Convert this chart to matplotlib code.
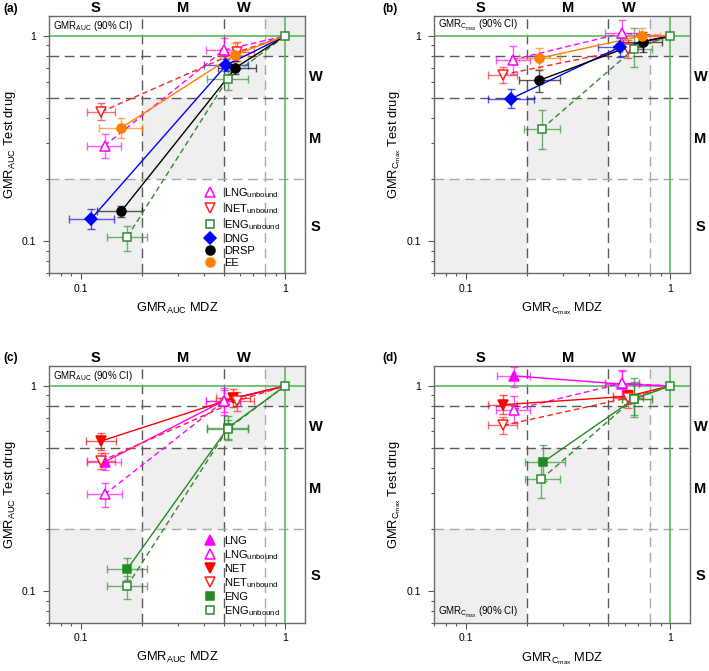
import matplotlib
matplotlib.use("Agg")
import matplotlib.pyplot as plt
from matplotlib.ticker import FixedLocator, NullFormatter, LogLocator

plt.rcParams['font.family'] = ['Liberation Sans', 'DejaVu Sans']
plt.rcParams['mathtext.fontset'] = 'custom'
plt.rcParams['mathtext.rm'] = 'Liberation Sans'
plt.rcParams['mathtext.it'] = 'Liberation Sans:italic'
plt.rcParams['mathtext.bf'] = 'Liberation Sans:bold'
plt.rcParams['mathtext.default'] = 'regular'

# cada ponto: (x, x_lo, x_hi, y, y_lo, y_hi)  -- GMR com IC 90%
# painel (a): AUC
a_lng_unb = [(0.131, 0.108, 0.157, 0.292, 0.255, 0.333), (0.50, 0.412, 0.603, 0.853, 0.725, 0.98)]
a_net_unb = [(0.126, 0.108, 0.148, 0.427, 0.39, 0.47), (0.58, 0.479, 0.701, 0.833, 0.755, 0.935)]
a_eng_unb = [(0.169, 0.134, 0.212, 0.105, 0.090, 0.119), (0.525, 0.415, 0.659, 0.62, 0.543, 0.686)]
a_dng = [(0.113, 0.088, 0.145, 0.129, 0.115, 0.143), (0.515, 0.40, 0.66, 0.72, 0.675, 0.775)]
a_drsp = [(0.158, 0.12, 0.20, 0.14, 0.131, 0.149), (0.572, 0.47, 0.725, 0.70, 0.65, 0.755)]
a_ee = [(0.158, 0.123, 0.20, 0.357, 0.318, 0.398), (0.567, 0.479, 0.658, 0.81, 0.727, 0.928)]

# painel (b): Cmax
b_lng_unb = [(0.170, 0.141, 0.207, 0.766, 0.655, 0.89), (0.58, 0.48, 0.708, 1.03, 0.88, 1.2)]
b_net_unb = [(0.152, 0.129, 0.178, 0.648, 0.59, 0.71), (0.621, 0.529, 0.741, 0.86, 0.781, 0.952)]
b_eng_unb = [(0.236, 0.194, 0.288, 0.353, 0.282, 0.438), (0.667, 0.58, 0.82, 0.867, 0.706, 1.09)]
b_dng = [(0.167, 0.128, 0.217, 0.495, 0.445, 0.55), (0.57, 0.442, 0.741, 0.884, 0.79, 0.978)]
b_drsp = [(0.229, 0.183, 0.288, 0.608, 0.533, 0.685), (0.735, 0.592, 0.91, 0.94, 0.836, 1.046)]
b_ee = [(0.229, 0.183, 0.288, 0.78, 0.693, 0.874), (0.727, 0.592, 0.894, 1.0, 0.917, 1.09)]

# painel (c): AUC, total vs unbound
c_lng = [(0.131, 0.108, 0.157, 0.426, 0.39, 0.47), (0.50, 0.412, 0.603, 0.845, 0.75, 0.95)]
c_lng_unb = [(0.131, 0.108, 0.160, 0.296, 0.257, 0.335), (0.50, 0.412, 0.603, 0.84, 0.725, 0.98)]
c_net = [(0.126, 0.106, 0.149, 0.539, 0.487, 0.592), (0.556, 0.461, 0.676, 0.87, 0.793, 0.963)]
c_net_unb = [(0.126, 0.108, 0.148, 0.43, 0.395, 0.47), (0.58, 0.479, 0.701, 0.845, 0.755, 0.935)]
c_eng = [(0.169, 0.134, 0.212, 0.128, 0.114, 0.145), (0.526, 0.415, 0.659, 0.626, 0.55, 0.714)]
c_eng_unb = [(0.169, 0.134, 0.212, 0.106, 0.092, 0.119), (0.526, 0.415, 0.659, 0.62, 0.543, 0.686)]

# painel (d): Cmax, total vs unbound
d_lng = [(0.172, 0.142, 0.207, 1.12, 0.99, 1.24), (0.58, 0.48, 0.708, 1.02, 0.88, 1.18)]
d_lng_unb = [(0.172, 0.141, 0.207, 0.766, 0.66, 0.89), (0.58, 0.48, 0.708, 1.03, 0.88, 1.2)]
d_net = [(0.153, 0.129, 0.178, 0.81, 0.73, 0.907), (0.621, 0.529, 0.741, 0.89, 0.82, 0.952)]
d_net_unb = [(0.153, 0.129, 0.178, 0.642, 0.585, 0.705), (0.621, 0.529, 0.741, 0.874, 0.78, 0.95)]
d_eng = [(0.239, 0.195, 0.305, 0.425, 0.345, 0.513), (0.67, 0.58, 0.82, 0.867, 0.72, 1.04)]
d_eng_unb = [(0.235, 0.195, 0.29, 0.352, 0.283, 0.435), (0.667, 0.58, 0.82, 0.867, 0.706, 1.09)]

# limites das categorias de interação (S, M, W)
limites = [0.2, 0.5, 0.8]
rotulos_cat = ['S', 'M', 'W']
pos_cat = [0.118, 0.316, 0.632]

# estilos: (cor, marcador, preenchido, tracejado)
estilos = {
    'LNG': ('#ff00ff', '^', True, False),
    'LNGu': ('#ff00ff', '^', False, True),
    'NET': ('#ff0000', 'v', True, False),
    'NETu': ('#ff2020', 'v', False, True),
    'ENG': ('#228b22', 's', True, False),
    'ENGu': ('#2e8b2e', 's', False, True),
    'DNG': ('#0000ff', 'D', True, False),
    'DRSP': ('#000000', 'o', True, False),
    'EE': ('#ff7f00', 'o', True, False),
}
tamanhos = {'^': 7, 'v': 7, 's': 5.5, 'D': 6, 'o': 6.5}
nomes = {
    'LNG': 'LNG', 'LNGu': 'LNG$_{unbound}$', 'NET': 'NET', 'NETu': 'NET$_{unbound}$',
    'ENG': 'ENG', 'ENGu': 'ENG$_{unbound}$', 'DNG': 'DNG', 'DRSP': 'DRSP', 'EE': 'EE',
}

VERDE = '#5cb85c'
CINZA_ESC = '#5a5a5a'
CINZA_CLA = '#a8a8a8'
FUNDO = '#efefef'
LIM = (0.07, 1.25)
W_PX, H_PX = 709, 671


def desenhar_painel(ax, series, letra, pos_letra, metrica, legenda=True, nota_embaixo=False):
    ax.set_xscale('log')
    ax.set_yscale('log')
    ax.set_xlim(*LIM)
    ax.set_ylim(*LIM)

    # blocos cinza na diagonal
    cantos = [LIM[0]] + limites + [LIM[1]]
    for i in range(len(cantos) - 1):
        ax.fill_between([cantos[i], cantos[i + 1]], cantos[i], cantos[i + 1],
                        color=FUNDO, lw=0, zorder=0)

    # linhas tracejadas das categorias
    for v, cor in zip(limites, [CINZA_ESC, CINZA_ESC, CINZA_CLA]):
        ax.axvline(v, color=cor, lw=1.0, dashes=(7, 4), zorder=1)
    for v, cor in zip(limites, [CINZA_CLA, CINZA_ESC, CINZA_ESC]):
        ax.axhline(v, color=cor, lw=1.0, dashes=(7, 4), zorder=1)
    ax.axvline(1, color=VERDE, lw=1.2, zorder=1)
    ax.axhline(1, color=VERDE, lw=1.2, zorder=1)

    handles = []
    for chave, pontos in series:
        cor, mk, cheio, tracejado = estilos[chave]
        xs = [p[0] for p in pontos] + [1.0]
        ys = [p[3] for p in pontos] + [1.0]
        xerr = [[p[0] - p[1] for p in pontos], [p[2] - p[0] for p in pontos]]
        yerr = [[p[3] - p[4] for p in pontos], [p[5] - p[3] for p in pontos]]
        ax.errorbar(xs[:-1], ys[:-1], xerr=xerr, yerr=yerr, fmt='none',
                    ecolor=cor, elinewidth=1.0, capsize=3, capthick=1.0,
                    alpha=0.65, zorder=2)
        kw = dict(dashes=(4, 2.5)) if tracejado else dict(ls='-')
        ax.plot(xs, ys, color=cor, lw=1.0, zorder=3, **kw)
        h, = ax.plot(xs[:-1], ys[:-1], ls='none', marker=mk, ms=tamanhos[mk],
                     mfc=cor if cheio else 'white', mec=cor, mew=1.1, zorder=4)
        handles.append((h, nomes[chave]))

    # ponto de referência (1, 1)
    ax.plot([1], [1], ls='none', marker='s', ms=5.5, mfc='white',
            mec='#2e8b2e', mew=1.1, zorder=5)

    # eixos
    ax.xaxis.set_major_locator(FixedLocator([0.1, 1]))
    ax.yaxis.set_major_locator(FixedLocator([0.1, 1]))
    ax.set_xticklabels(['0.1', '1'])
    ax.set_yticklabels(['0.1', '1'])
    for eixo in (ax.xaxis, ax.yaxis):
        eixo.set_minor_locator(LogLocator(base=10, subs=range(2, 10)))
        eixo.set_minor_formatter(NullFormatter())
    ax.tick_params(which='major', length=4, width=0.8, color='#555555',
                   labelsize=7.5)
    ax.tick_params(axis='x', which='major', pad=3.5)
    ax.tick_params(axis='y', which='major', pad=5)
    ax.tick_params(which='minor', length=2.5, width=0.8, color='#555555')
    for sp in ax.spines.values():
        sp.set_color('#6a6a6a')
        sp.set_linewidth(1.0)

    sub = '_{AUC}' if metrica == 'AUC' else '_{C_{max}}'
    ax.set_xlabel('GMR$' + sub + '$ MDZ', fontsize=9.3, labelpad=5)
    ax.set_ylabel('GMR$' + sub + '$ Test drug', fontsize=9.3, labelpad=3)

    # rótulos de categoria
    tx = ax.get_xaxis_transform()
    ty = ax.get_yaxis_transform()
    for r, p in zip(rotulos_cat, pos_cat):
        ax.text(p, 1.016, r, transform=tx, ha='center', va='baseline',
                fontsize=10.5, fontweight='bold')
        ax.text(1.042, p, r, transform=ty, ha='center', va='center',
                fontsize=10.5, fontweight='bold')

    nota = 'GMR$' + sub + '$ (90% CI)'
    if nota_embaixo:
        ax.text(0.015, 0.04, nota, transform=ax.transAxes, ha='left',
                va='center', fontsize=7)
    else:
        ax.text(0.015, 0.963, nota, transform=ax.transAxes, ha='left',
                va='center', fontsize=7)

    if legenda:
        ax.legend([h for h, _ in handles], [n for _, n in handles],
                  loc='lower left', bbox_to_anchor=(0.585, -0.005),
                  frameon=False, fontsize=8, handlelength=0.9,
                  handletextpad=0.8, labelspacing=0.18, borderaxespad=0.2)

    ax.figure.text(pos_letra[0] / W_PX, 1 - pos_letra[1] / H_PX,
                   '(' + letra + ')', fontsize=8.5, fontweight='bold',
                   ha='left', va='top')


fig = plt.figure(figsize=(7.09, 6.71), dpi=100)
larg, alt = 0.361, 0.383
ax_a = fig.add_axes([0.069, 0.593, larg, alt])
ax_b = fig.add_axes([0.612, 0.593, larg, alt])
ax_c = fig.add_axes([0.069, 0.0715, larg, alt])
ax_d = fig.add_axes([0.612, 0.0715, larg, alt])

desenhar_painel(ax_a, [('LNGu', a_lng_unb), ('NETu', a_net_unb), ('ENGu', a_eng_unb),
                       ('DNG', a_dng), ('DRSP', a_drsp), ('EE', a_ee)],
                'a', (3, 3), 'AUC')
desenhar_painel(ax_b, [('LNGu', b_lng_unb), ('NETu', b_net_unb), ('ENGu', b_eng_unb),
                       ('DNG', b_dng), ('DRSP', b_drsp), ('EE', b_ee)],
                'b', (382, 3), 'Cmax', legenda=False)
desenhar_painel(ax_c, [('LNG', c_lng), ('LNGu', c_lng_unb), ('NET', c_net),
                       ('NETu', c_net_unb), ('ENG', c_eng), ('ENGu', c_eng_unb)],
                'c', (3, 352), 'AUC')
desenhar_painel(ax_d, [('LNG', d_lng), ('LNGu', d_lng_unb), ('NET', d_net),
                       ('NETu', d_net_unb), ('ENG', d_eng), ('ENGu', d_eng_unb)],
                'd', (382, 352), 'Cmax', legenda=False, nota_embaixo=True)

fig.savefig('out.png', dpi=100)
